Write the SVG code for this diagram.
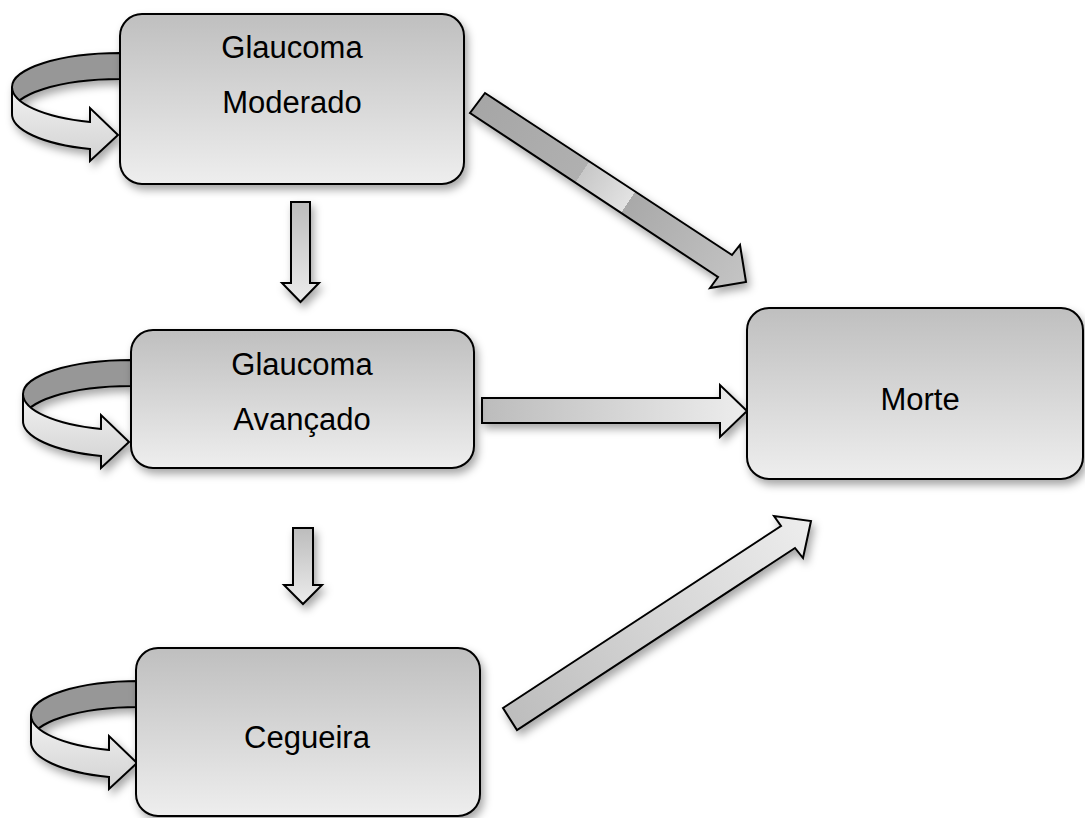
<svg xmlns="http://www.w3.org/2000/svg" xmlns:xlink="http://www.w3.org/1999/xlink" width="1085" height="818" viewBox="0 0 1085 818">
<style>
.box{fill:url(#boxGrad);stroke:#000;stroke-width:2;filter:url(#shadow)}
.lbl{font-family:"Liberation Sans",Arial,sans-serif;font-size:31px;fill:#000;text-anchor:middle}
.arr{stroke:#000;stroke-width:2;stroke-linejoin:miter;filter:url(#shadow)}
.back{fill:#979797;stroke:#000;stroke-width:2}
.front{fill:url(#loopGrad);stroke:#000;stroke-width:2}
</style>
<defs>
<filter id="shadow" x="-20%" y="-20%" width="150%" height="160%">
<feDropShadow dx="3" dy="5" stdDeviation="4" flood-color="#000" flood-opacity="0.35"/>
</filter>
<linearGradient id="boxGrad" x1="0" y1="0" x2="0" y2="1">
<stop offset="0" stop-color="#bfbfbf"/>
<stop offset="1" stop-color="#eeeeee"/>
</linearGradient>
<linearGradient id="loopGrad" x1="0" y1="0" x2="0" y2="1">
<stop offset="0" stop-color="#f2f2f2"/>
<stop offset="1" stop-color="#d2d2d2"/>
</linearGradient>
<linearGradient id="vGrad" x1="0" y1="0" x2="0" y2="1">
<stop offset="0" stop-color="#bcbcbc"/>
<stop offset="1" stop-color="#ececec"/>
</linearGradient>
<linearGradient id="hGrad" x1="0" y1="0" x2="1" y2="0">
<stop offset="0" stop-color="#bcbcbc"/>
<stop offset="1" stop-color="#ededed"/>
</linearGradient>
<linearGradient id="d1Grad" gradientUnits="userSpaceOnUse" x1="477" y1="103" x2="746" y2="282">
<stop offset="0" stop-color="#a6a6a6"/>
<stop offset="0.39" stop-color="#b0b0b0"/>
<stop offset="0.39" stop-color="#c8c8c8"/>
<stop offset="0.56" stop-color="#e2e2e2"/>
<stop offset="0.56" stop-color="#a9a9a9"/>
<stop offset="1" stop-color="#c4c4c4"/>
</linearGradient>
<linearGradient id="d2Grad" gradientUnits="userSpaceOnUse" x1="510" y1="719" x2="811" y2="521">
<stop offset="0" stop-color="#bdbdbd"/>
<stop offset="1" stop-color="#ededed"/>
</linearGradient>
<g id="selfloop" filter="url(#shadow)">
<path class="back" d="M120,53 A108,34 0 0 0 12,87 L12,113 A108,34 0 0 1 120,79 Z"/>
<path class="front" d="M12,87 A108,36.5 0 0 0 90,122 L90,108 L118,135 L90,161 L90,149 A108,36.5 0 0 1 12,113 Z"/>
</g>
</defs>
<rect width="1085" height="818" fill="#fff"/>
<g id="connectors">
<use id="loop-moderado" xlink:href="#selfloop" href="#selfloop"/>
<use id="loop-avancado" xlink:href="#selfloop" href="#selfloop" transform="translate(11,307)"/>
<use id="loop-cegueira" xlink:href="#selfloop" href="#selfloop" transform="translate(19,628)"/>
<path id="moderado-avancado" class="arr" fill="url(#vGrad)" d="M291,202 L310,202 L310,283 L319,283 L300.5,302 L282,283 L291,283 Z"/>
<path id="avancado-cegueira" class="arr" fill="url(#vGrad)" d="M293,528 L313,528 L313,585 L322,585 L303,604 L284,585 L293,585 Z"/>
<path id="avancado-morte" class="arr" fill="url(#hGrad)" d="M482,398 L720,398 L720,385 L747,411 L720,437 L720,423 L482,423 Z"/>
<path id="moderado-morte" class="arr" fill="url(#d1Grad)" d="M485,93 L732,255 L740,245 L746,282 L710,288 L718,277 L470,113 Z"/>
<path id="cegueira-morte" class="arr" fill="url(#d2Grad)" d="M503,708 L781,526 L774,516 L811,521 L803,558 L795,548 L517,730 Z"/>
</g>
<g id="node-moderado">
<rect class="box" x="120" y="14" width="344" height="170" rx="22" ry="22"/>
<text class="lbl" x="292" y="58">Glaucoma</text>
<text class="lbl" x="292" y="113">Moderado</text>
</g>
<g id="node-avancado">
<rect class="box" x="131" y="330" width="343" height="138" rx="22" ry="22"/>
<text class="lbl" x="302" y="375">Glaucoma</text>
<text class="lbl" x="302" y="430">Avançado</text>
</g>
<g id="node-cegueira">
<rect class="box" x="136" y="648" width="344" height="168" rx="22" ry="22"/>
<text class="lbl" x="307" y="748">Cegueira</text>
</g>
<g id="node-morte">
<rect class="box" x="747" y="308" width="336" height="171" rx="22" ry="22"/>
<text class="lbl" x="920" y="410">Morte</text>
</g>
</svg>
